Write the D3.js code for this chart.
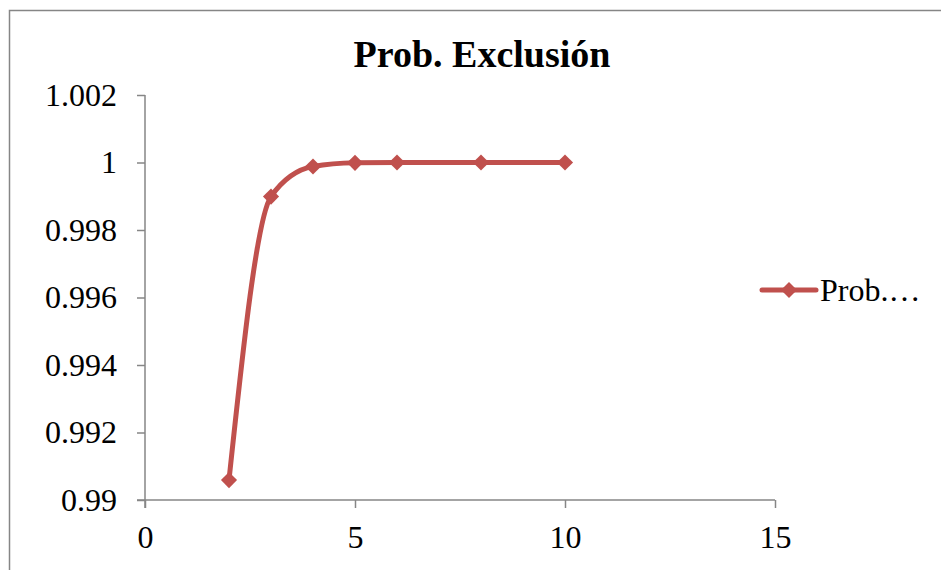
<!DOCTYPE html>
<meta charset="utf-8">
<style>
  body { margin: 0; background: #fff; }
  text { font-family: "Liberation Serif", "Times New Roman", serif; }
</style>
<script src="https://d3js.org/d3.v7.min.js"></script>
<div id="my_dataviz"></div>
<script>
// data
var xValues = [2, 3, 4, 5, 6, 8, 10];
var probValues = [0.99059, 0.99899, 0.99988, 0.99999, 1, 1, 1];
var xTicks = [0, 5, 10, 15];
var yTicks = [0.99, 0.992, 0.994, 0.996, 0.998, 1, 1.002];
var title = "Prob. Exclusión";
var legendLabel = "Prob.…";

var width = 941, height = 570;
var margin = {top: 95, left: 145, right: 166, bottom: 70};
var red = "#C0504D", grey = "#868686";

var svg = d3.select("#my_dataviz")
  .append("svg")
  .attr("width", width)
  .attr("height", height);

// chart frame
svg.append("rect")
  .attr("x", 9.5).attr("y", 10.5)
  .attr("width", 960).attr("height", 600)
  .style("fill", "none")
  .style("stroke", grey)
  .style("stroke-width", 1.5);

var x = d3.scaleLinear().domain([0, 15]).range([margin.left, width - margin.right]);
var y = d3.scaleLinear().domain([0.99, 1.002]).range([height - margin.bottom, margin.top]);

// title
svg.append("text")
  .attr("x", 482).attr("y", 67)
  .attr("text-anchor", "middle")
  .style("font-size", "38px")
  .style("font-weight", "bold")
  .text(title);

// axes
var yAxis = svg.append("g")
  .attr("transform", "translate(" + margin.left + ",0)")
  .call(d3.axisLeft(y).tickValues(yTicks).tickSize(8).tickPadding(20)
    .tickFormat(function(d) { return +d.toFixed(3); }));
var xAxis = svg.append("g")
  .attr("transform", "translate(0," + y(0.99) + ")")
  .call(d3.axisBottom(x).tickValues(xTicks).tickSize(8).tickPadding(17));

[xAxis, yAxis].forEach(function(a) {
  a.select(".domain").remove();
  a.selectAll("line").style("stroke", grey).style("stroke-width", 1.5);
  a.selectAll("text").style("font-size", "32px").style("fill", "#000")
    .style("font-family", "'Liberation Serif', 'Times New Roman', serif");
});
svg.append("line")
  .attr("x1", margin.left).attr("x2", margin.left)
  .attr("y1", y(1.002)).attr("y2", y(0.99) + 8)
  .style("stroke", grey).style("stroke-width", 1.5);
svg.append("line")
  .attr("x1", margin.left - 8).attr("x2", x(15))
  .attr("y1", y(0.99)).attr("y2", y(0.99))
  .style("stroke", grey).style("stroke-width", 1.5);

// smoothed line
var pts = xValues.map(function(d, i) { return [x(d), y(probValues[i])]; });
svg.append("path")
  .attr("d", d3.line().curve(d3.curveMonotoneX)(pts))
  .style("fill", "none")
  .style("stroke", red)
  .style("stroke-width", 5)
  .style("stroke-linejoin", "round");

var diamond = d3.symbol().type(d3.symbolSquare).size(130);
svg.selectAll("marker")
  .data(pts).enter()
  .append("path")
  .attr("d", diamond)
  .attr("transform", function(d) { return "translate(" + d[0] + "," + d[1] + ") rotate(45)"; })
  .style("fill", red);

// legend
var lg = svg.append("g").attr("transform", "translate(760,290)");
lg.append("line").attr("x1", 2).attr("x2", 56)
  .style("stroke", red).style("stroke-width", 5).style("stroke-linecap", "round");
lg.append("path").attr("d", diamond)
  .attr("transform", "translate(29,0) rotate(45)")
  .style("fill", red);
lg.append("text").attr("x", 60).attr("y", 11)
  .style("font-size", "32px")
  .text(legendLabel);
</script>
